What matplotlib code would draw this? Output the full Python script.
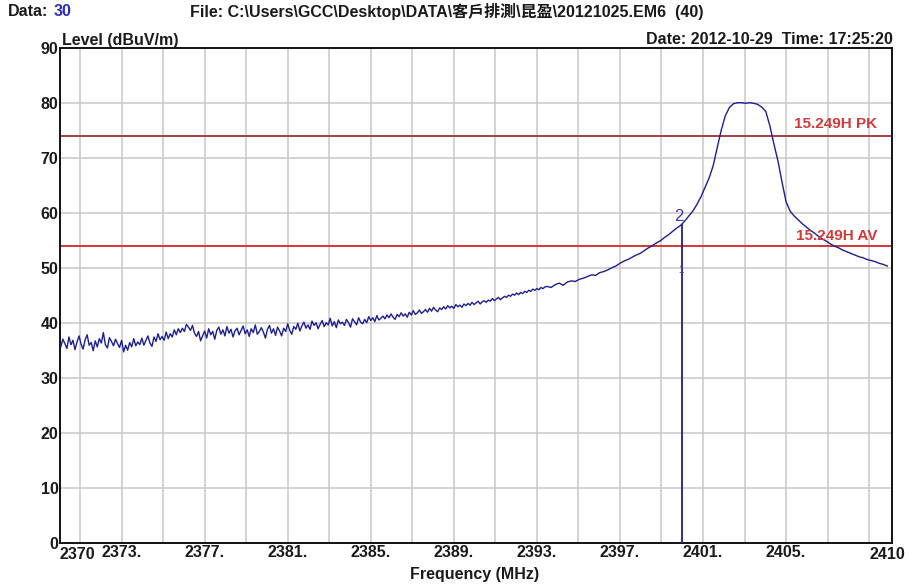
import numpy as np
import matplotlib.pyplot as plt
import matplotlib.transforms as mtransforms

# Fine sweep (0.1 MHz steps) over the noisy low part, 1 MHz per row
f_start_fine = 2370.1
level_fine = [
    35.6, 37.0, 36.2, 35.3, 37.4, 36.0, 36.8, 35.1, 36.5, 37.6,
    36.1, 35.2, 36.9, 37.8, 35.9, 36.4, 34.9, 36.7, 35.6, 37.1,
    36.3, 38.2, 36.0, 35.4, 37.3, 36.6, 35.8, 37.0, 36.2, 35.5,
    36.8, 34.7, 35.9, 35.0, 36.4, 35.6, 37.1, 35.8, 36.5, 36.0,
    37.2, 35.9, 36.8, 37.6, 36.3, 35.7, 37.4, 36.6, 38.0, 36.9,
    37.5, 36.8, 38.3, 37.1, 38.0, 37.4, 38.7, 37.8, 38.9, 38.2,
    39.0, 38.4, 39.7, 39.2, 38.6, 39.5, 38.1, 37.5, 38.4, 36.7,
    37.6, 38.5, 37.2, 38.9, 37.8, 38.4, 37.0, 38.6, 39.2, 37.9,
    38.7, 37.6, 39.3, 38.1, 38.8, 37.4, 38.5, 39.0, 37.8, 38.6,
    39.4, 38.0, 38.7, 37.5, 38.9, 38.2, 39.6, 37.9, 38.4, 39.1,
    38.3, 37.2, 38.8, 39.5, 38.1, 38.9, 37.7, 39.2, 38.5, 37.6,
    39.0, 38.4, 39.8, 38.6, 37.9, 39.3, 38.8, 39.9, 38.5, 39.4,
    40.1, 39.0, 39.6, 38.8, 40.3, 39.5, 40.0, 38.9, 39.7, 40.4,
    39.3, 40.0, 39.6, 40.8, 39.4, 40.2, 39.1, 40.5, 39.8, 40.1,
    39.5, 40.6, 40.0, 39.2, 40.7, 40.2, 39.6, 40.9, 40.1, 39.8,
    40.6, 40.0, 41.1, 40.4, 40.9, 40.2, 41.3, 40.5, 40.8, 41.2,
    40.7, 41.4, 40.9, 41.6, 41.0, 40.6, 41.5, 41.1, 41.8, 41.2,
    41.6, 41.0, 41.9, 41.4, 42.2, 41.5, 41.8, 42.3, 41.7, 42.0,
    42.4, 41.9, 42.6, 42.1, 42.8, 42.3, 42.0, 42.7, 42.4, 42.9,
    42.5, 43.1, 42.7, 43.0, 42.6, 43.3, 42.9, 43.2, 42.8, 43.4,
    43.1, 43.5, 43.2, 43.7, 43.3, 43.6, 43.9, 43.4, 43.8, 44.0,
    43.7, 44.1, 43.9, 44.4, 44.0, 44.3, 44.6, 44.2, 44.5, 44.8,
    44.6, 45.0, 44.8, 45.2, 45.0, 45.4, 45.1, 45.5, 45.3, 45.7,
    45.5, 45.9, 45.7, 46.1, 45.9, 46.2, 46.0, 46.4, 46.2, 46.5,
]

# Coarse sweep (0.2 MHz steps) from 2394.1 MHz, 2 MHz per row
f_start_coarse = 2394.1
level_coarse = [
    46.6, 46.4, 46.9, 47.2, 46.8, 47.4, 47.6, 47.5, 47.9, 48.1,
    48.4, 48.7, 48.6, 49.1, 49.3, 49.6, 50.0, 50.3, 50.8, 51.2,
    51.5, 51.9, 52.3, 52.6, 53.1, 53.6, 54.0, 54.5, 54.9, 55.5,
    56.0, 56.6, 57.2, 57.7, 58.5, 59.4, 60.3, 61.5, 62.9, 64.6,
    66.3, 68.5, 71.8, 75.0, 77.6, 79.1, 79.8, 80.0, 80.0, 79.9,
    80.0, 79.9, 79.7, 79.2, 78.4, 75.8, 72.5, 69.4, 65.6, 62.0,
    60.3, 59.4, 58.7, 58.0, 57.4, 56.8, 56.3, 55.7, 55.2, 54.8,
    54.3, 53.9, 53.6, 53.2, 52.9, 52.6, 52.3, 52.0, 51.8, 51.5,
    51.3, 51.1, 50.8, 50.6, 50.3,
]

freq = np.concatenate([f_start_fine + 0.1 * np.arange(len(level_fine)),
                       f_start_coarse + 0.2 * np.arange(len(level_coarse))])
level = np.array(level_fine + level_coarse)

# Limit lines
limit_pk = 74
limit_av = 54
limit_name_pk = '15.249H PK'
limit_name_av = '15.249H AV'

# Marker 2 position
marker_f = 2400.75
marker_level = 57.7
marker1_level = 49.5

# Axis layout
x_min, x_max = 2370.06, 2411.13
grid_first = 2371.05
grid_step = 2.05
n_grid = 20
x_label_text = ['2373.', '2377.', '2381.', '2385.', '2389.', '2393.', '2397.', '2401.', '2405.']
y_ticks = [0, 10, 20, 30, 40, 50, 60, 70, 80, 90]

FONT = ['Liberation Sans', 'Noto Sans CJK TC', 'DejaVu Sans']
plt.rcParams['font.family'] = FONT
FS = 11.5

W, H = 909, 588
fig = plt.figure(figsize=(W / 100, H / 100), dpi=100)
fig.patch.set_facecolor('white')
ax = fig.add_axes([60 / W, 1 - 542.7 / H, 832 / W, 495 / H])

trace_col = '#1e1e96'
grid_col = '#c8c8c8'

# grid
grid_x = [grid_first + grid_step * k for k in range(n_grid)]
for gx in grid_x:
    ax.axvline(gx, color=grid_col, lw=1.1, zorder=1)
for gy in y_ticks[1:-1]:
    ax.axhline(gy, color=grid_col, lw=1.1, zorder=1)

# limits
ax.axhline(limit_pk, color='#9e3030', lw=1.3, zorder=2)
ax.axhline(limit_av, color='#d02828', lw=1.3, zorder=2)

# trace
ax.plot(freq, level, color=trace_col, lw=1.0, zorder=3)

# marker
ax.plot([marker_f, marker_f], [0, marker_level], color=trace_col, lw=1.3, zorder=4)
ax.text(marker_f - 0.12, marker_level + 0.3, '2', color='#3b3bb0', fontsize=12,
        ha='center', va='bottom', zorder=5)
ax.text(marker_f - 0.05, marker1_level, '1', color='#3b3bb0', fontsize=7,
        ha='center', va='center', zorder=5)

# limit labels
lab_x = x_max - (892 - 877) / 20.26
ax.text(lab_x, limit_pk + 0.9, limit_name_pk, color='#d43a3a', fontsize=11,
        fontweight='bold', ha='right', va='bottom', zorder=5)
ax.text(lab_x, limit_av + 1.8, limit_name_av, color='#d43a3a', fontsize=11,
        fontweight='bold', ha='right', va='center', zorder=5)

ax.set_xlim(x_min, x_max)
ax.set_ylim(0, 90)

ax.set_xticks(grid_x[1:18:2])
ax.set_xticklabels(x_label_text)
ax.set_yticks(y_ticks)
ax.set_yticklabels([str(v) for v in y_ticks])
ax.tick_params(length=0, labelsize=FS, pad=2)
ax.tick_params(axis='y', pad=1)
for lab in ax.get_xticklabels() + ax.get_yticklabels():
    lab.set_fontweight('bold')
    lab.set_color('#1a1a1a')

# end labels of the frequency axis
trans = mtransforms.blended_transform_factory(ax.transData, ax.transAxes)
ax.text(x_min, -0.008, '2370', transform=trans, ha='left', va='top',
        fontsize=FS, fontweight='bold', color='#1a1a1a')
ax.text(2410.0, -0.008, '2410', transform=trans, ha='left', va='top',
        fontsize=FS, fontweight='bold', color='#1a1a1a')

for sp in ax.spines.values():
    sp.set_linewidth(1.4)
    sp.set_color('#111111')

# header texts
fig.text(8 / W, 1 - 12 / H, 'Data:', fontsize=FS, fontweight='bold',
         ha='left', va='center', color='#1a1a1a')
fig.text(54 / W, 1 - 12 / H, '30', fontsize=FS, fontweight='bold',
         ha='left', va='center', color='#2b2bc0')
fig.text(190 / W, 1 - 12 / H,
         'File: C:\\Users\\GCC\\Desktop\\DATA\\客戶排測\\昆盈\\20121025.EM6  (40)',
         fontsize=FS, fontweight='bold', ha='left', va='center', color='#1a1a1a')
fig.text(62 / W, 1 - 40 / H, 'Level (dBuV/m)', fontsize=FS, fontweight='bold',
         ha='left', va='center', color='#1a1a1a')
fig.text(893 / W, 1 - 40 / H, 'Date: 2012-10-29  Time: 17:25:20', fontsize=FS,
         fontweight='bold', ha='right', va='center', color='#1a1a1a')
fig.text(475 / W, 1 - 575 / H, 'Frequency (MHz)', fontsize=FS, fontweight='bold',
         ha='center', va='center', color='#1a1a1a')

fig.savefig('out.png', dpi=100, facecolor='white')
